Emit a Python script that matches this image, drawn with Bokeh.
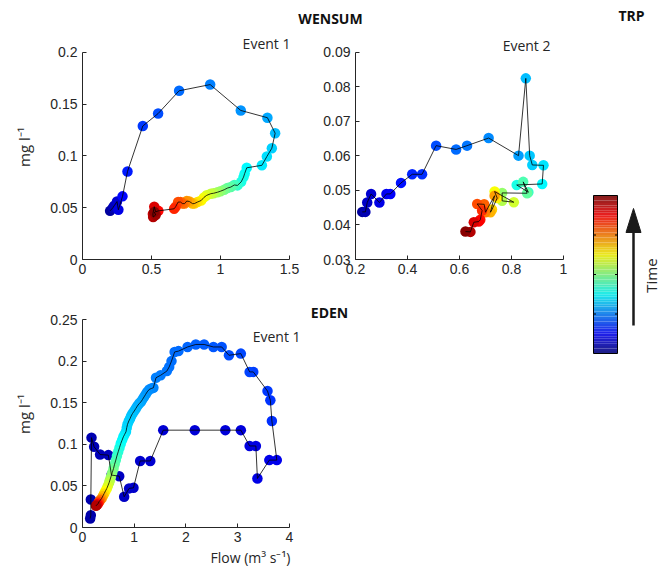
import math
from bokeh.plotting import figure
from bokeh.layouts import column, row
from bokeh.models import Range1d, FixedTicker, Label
from bokeh.embed import file_html
from bokeh.resources import INLINE
from bokeh.core.properties import value

# ---------------- data ----------------
# WENSUM, Event 1
wensum1_flow = [0.20, 0.22, 0.23, 0.25, 0.26, 0.29, 0.326, 0.437, 0.548, 0.70,
                0.925, 1.147, 1.34, 1.396, 1.372, 1.336, 1.30, 1.19, 1.175, 1.167,
                1.15, 1.123, 1.10, 1.075, 1.05, 1.027, 1.00, 0.978, 0.95, 0.93,
                0.90, 0.88, 0.86, 0.833, 0.81, 0.797, 0.775, 0.756, 0.74, 0.725,
                0.71, 0.693, 0.675, 0.664, 0.55, 0.53, 0.52, 0.51, 0.512, 0.53, 0.52]
wensum1_trp = [0.047, 0.050, 0.052, 0.056, 0.048, 0.061, 0.085, 0.129, 0.141, 0.163,
               0.169, 0.144, 0.137, 0.122, 0.1075, 0.0995, 0.091, 0.0886, 0.083, 0.0796,
               0.075, 0.0716, 0.072, 0.070, 0.069, 0.0674, 0.066, 0.065, 0.064, 0.0636,
               0.062, 0.060, 0.057, 0.0555, 0.054, 0.054, 0.056, 0.0565, 0.054, 0.054,
               0.0555, 0.0555, 0.051, 0.049, 0.047, 0.046, 0.051, 0.044, 0.041, 0.043, 0.046]
wensum1_time = [0.03, 0.05, 0.06, 0.08, 0.10, 0.13, 0.15, 0.18, 0.20, 0.23,
                0.25, 0.27, 0.29, 0.31, 0.33, 0.345, 0.355, 0.37, 0.38, 0.39,
                0.40, 0.42, 0.44, 0.46, 0.47, 0.49, 0.51, 0.53, 0.55, 0.57,
                0.59, 0.61, 0.63, 0.65, 0.67, 0.69, 0.71, 0.73, 0.75, 0.77,
                0.78, 0.80, 0.82, 0.84, 0.87, 0.89, 0.91, 0.93, 0.95, 0.97, 0.99]

# WENSUM, Event 2
wensum2_flow = [0.226, 0.238, 0.245, 0.26, 0.292, 0.319, 0.334, 0.375, 0.418, 0.456,
                0.51, 0.587, 0.629, 0.712, 0.827, 0.855, 0.87, 0.88, 0.923, 0.918,
                0.82, 0.865, 0.845, 0.86, 0.764, 0.764, 0.809, 0.735, 0.745, 0.725,
                0.719, 0.735, 0.70, 0.695, 0.668, 0.687, 0.68, 0.674, 0.655, 0.642, 0.623]
wensum2_trp = [0.0438, 0.0438, 0.0465, 0.049, 0.0465, 0.049, 0.049, 0.0522, 0.0547, 0.0547,
               0.063, 0.0619, 0.063, 0.0652, 0.0601, 0.0825, 0.0601, 0.0574, 0.0573, 0.0519,
               0.0516, 0.0495, 0.0525, 0.0492, 0.0493, 0.0470, 0.0466, 0.0497, 0.0478, 0.0445,
               0.0437, 0.0485, 0.0437, 0.0460, 0.0461, 0.0442, 0.0415, 0.0410, 0.0408, 0.0380, 0.0381]
wensum2_time = [0.03, 0.05, 0.07, 0.08, 0.10, 0.11, 0.12, 0.14, 0.16, 0.17,
                0.20, 0.23, 0.24, 0.26, 0.28, 0.31, 0.32, 0.33, 0.35, 0.37,
                0.40, 0.43, 0.45, 0.47, 0.52, 0.55, 0.58, 0.62, 0.64, 0.67,
                0.70, 0.72, 0.75, 0.78, 0.80, 0.83, 0.86, 0.88, 0.91, 0.95, 0.99]

# EDEN, Event 1 (early loop, right-hand rise and top arc, falling limb)
eden1_flow = [0.148, 0.161, 0.161, 0.174, 0.225, 0.34, 0.50, 0.56, 0.71, 0.805,
              0.90, 0.985, 1.114, 1.31, 1.56, 2.17, 2.76, 3.06, 3.23, 3.35,
              3.38, 3.61, 3.755,
              3.66, 3.63, 3.575, 3.30, 3.23, 3.06, 2.83, 2.69, 2.53, 2.35,
              2.19, 2.03,
              1.855, 1.78, 1.72, 1.675, 1.63, 1.51, 1.42, 1.37, 1.33, 1.29,
              1.25, 1.22, 1.19, 1.16, 1.13, 1.095, 1.06, 1.03, 1.0, 0.966,
              0.94, 0.92, 0.895, 0.87, 0.855, 0.84, 0.815, 0.79, 0.765, 0.74,
              0.715, 0.69, 0.665, 0.644, 0.62, 0.60, 0.575, 0.55, 0.53, 0.515,
              0.49, 0.47, 0.445, 0.42, 0.395, 0.37, 0.345, 0.32, 0.305, 0.29,
              0.275, 0.26]
eden1_trp = [0.0108, 0.0148, 0.0337, 0.108, 0.097, 0.0877, 0.087, 0.063, 0.0617, 0.0369,
             0.047, 0.0477, 0.080, 0.080, 0.117, 0.117, 0.117, 0.117, 0.098, 0.098,
             0.0589, 0.081, 0.081,
             0.128, 0.153, 0.164, 0.187, 0.187, 0.209, 0.207, 0.217, 0.217, 0.220,
             0.220, 0.217,
             0.212, 0.211, 0.200, 0.193, 0.188, 0.183, 0.180, 0.168, 0.167, 0.166,
             0.163, 0.160, 0.157, 0.154, 0.151, 0.149, 0.146, 0.143, 0.140, 0.137,
             0.134, 0.131, 0.128, 0.124, 0.120, 0.115, 0.112, 0.109, 0.105, 0.101,
             0.096, 0.091, 0.086, 0.081, 0.076, 0.071, 0.066, 0.061, 0.057, 0.054,
             0.050, 0.047, 0.044, 0.041, 0.038, 0.035, 0.033, 0.031, 0.029, 0.028,
             0.027, 0.026]
eden1_time = [0.040, 0.043, 0.046, 0.049, 0.052, 0.055, 0.058, 0.061, 0.064, 0.067,
              0.070, 0.073, 0.076, 0.079, 0.082, 0.085, 0.088, 0.091, 0.094, 0.097,
              0.100, 0.103, 0.106,
              0.17, 0.175, 0.18, 0.185, 0.19, 0.195, 0.20, 0.205, 0.21, 0.215,
              0.22, 0.225,
              0.230, 0.232, 0.234, 0.236, 0.240, 0.245, 0.250, 0.255, 0.258, 0.260,
              0.265, 0.270, 0.275, 0.280, 0.285, 0.290, 0.295, 0.300, 0.305, 0.310,
              0.315, 0.320, 0.325, 0.330, 0.335, 0.340, 0.350, 0.360, 0.370, 0.380,
              0.395, 0.410, 0.425, 0.440, 0.460, 0.480, 0.500, 0.520, 0.540, 0.560,
              0.580, 0.600, 0.625, 0.650, 0.685, 0.720, 0.760, 0.800, 0.840, 0.880,
              0.915, 0.950]

# axis ticks / labels
w1_xticks = [0, 0.5, 1, 1.5]
w1_xlabels = ["0", "0.5", "1", "1.5"]
w1_yticks = [0, 0.05, 0.1, 0.15, 0.2]
w1_ylabels = ["0", "0.05", "0.1", "0.15", "0.2"]
w2_xticks = [0.2, 0.4, 0.6, 0.8, 1]
w2_xlabels = ["0.2", "0.4", "0.6", "0.8", "1"]
w2_yticks = [0.03, 0.04, 0.05, 0.06, 0.07, 0.08, 0.09]
w2_ylabels = ["0.03", "0.04", "0.05", "0.06", "0.07", "0.08", "0.09"]
e1_xticks = [0, 1, 2, 3, 4]
e1_xlabels = ["0", "1", "2", "3", "4"]
e1_yticks = [0, 0.05, 0.1, 0.15, 0.2, 0.25]
e1_ylabels = ["0", "0.05", "0.1", "0.15", "0.2", "0.25"]

# ---------------- styling helpers ----------------
TICK_FONT = "Liberation Sans"
TEXT_FONT = "Open Sans"
AX_COL = "#262626"
YLABEL = "mg l\u207b\u00b9"


def jet(t):
    r = min(max(1.5 - abs(4 * t - 3), 0), 1)
    g = min(max(1.5 - abs(4 * t - 2), 0), 1)
    b = min(max(1.5 - abs(4 * t - 1), 0), 1)
    return r, g, b


def to_hex(rgb):
    return "#%02x%02x%02x" % tuple(int(round(c * 255)) for c in rgb)


def jet_hex(t):
    return to_hex(jet(t))


def muted_hex(t):
    r, g, b = jet(t)
    return to_hex((0.8 * r + 0.12, 0.8 * g + 0.12, 0.8 * b + 0.12))


def panel(width, height, bl, br, bt, bb, xr, yr, xb, yb, xt, xl, yt, yl, ylabel=None):
    p = figure(width=width, height=height, x_range=Range1d(*xr), y_range=Range1d(*yr),
               output_backend="svg", toolbar_location=None,
               min_border_left=bl, min_border_right=br, min_border_top=bt, min_border_bottom=bb)
    p.grid.visible = False
    p.outline_line_color = None
    p.background_fill_color = "white"
    p.border_fill_color = "white"
    for ax, ticks, labels, bounds in ((p.xaxis, xt, xl, xb), (p.yaxis, yt, yl, yb)):
        ax.bounds = bounds
        ax.ticker = FixedTicker(ticks=ticks)
        ax.major_label_overrides = {float(t): l for t, l in zip(ticks, labels)}
        ax.axis_line_color = AX_COL
        ax.axis_line_width = 1
        ax.major_tick_line_color = AX_COL
        ax.major_tick_in = 4
        ax.major_tick_out = 0
        ax.minor_tick_line_color = None
        ax.major_label_text_font = TICK_FONT
        ax.major_label_text_font_size = "14px"
        ax.major_label_text_color = AX_COL
    p.xaxis.major_label_standoff = 4
    p.yaxis.major_label_standoff = 5
    if ylabel:
        p.yaxis.axis_label = ylabel
        p.yaxis.axis_label_text_font = TEXT_FONT
        p.yaxis.axis_label_text_font_size = "15px"
        p.yaxis.axis_label_text_font_style = "normal"
        p.yaxis.axis_label_text_color = AX_COL
        p.yaxis.axis_label_standoff = 13
    return p


def draw_series(p, xs, ys, ts):
    cols = [jet_hex(t) for t in ts]
    p.scatter(xs, ys, size=10.5, fill_color=cols, line_color=None)
    p.line(xs, ys, line_color="black", line_width=0.8)


def add_text(p, x, y, text, align="center", size="14px", bold=False):
    p.add_layout(Label(x=x, y=y, text=text, text_align=align, text_baseline="middle",
                       text_font=TEXT_FONT, text_font_size=size,
                       text_font_style="bold" if bold else "normal",
                       text_color="#111111" if bold else AX_COL))


# ---------------- panels ----------------
# frames extend a little beyond the axes so that the in-panel captions fit
f1 = panel(308, 255, 82, 8, 4, 26, (0, 1.57971), (0, 0.217391), (0, 1.5), (0, 0.2),
           w1_xticks, w1_xlabels, w1_yticks, w1_ylabels, ylabel=YLABEL)
draw_series(f1, wensum1_flow, wensum1_trp, wensum1_time)
add_text(f1, 1.507, 0.2087, "Event 1", align="right")

f2 = panel(272, 255, 47, 17, 4, 26, (0.2, 1.0), (0.03, 0.095217), (0.2, 1.0), (0.03, 0.09),
           w2_xticks, w2_xlabels, w2_yticks, w2_ylabels)
draw_series(f2, wensum2_flow, wensum2_trp, wensum2_time)
add_text(f2, 0.95, 0.092, "Event 2", align="right")

f3 = panel(580, 263, 82, 200, 15, 21, (0, 5.7585), (0, 0.27284), (0, 4), (0, 0.25),
           e1_xticks, e1_xlabels, e1_yticks, e1_ylabels, ylabel=YLABEL)
draw_series(f3, eden1_flow, eden1_trp, eden1_time)
add_text(f3, 4.213, 0.2296, "Event 1", align="right")
add_text(f3, 4.773, 0.2584, "EDEN", bold=True)


def blank(width, height):
    p = figure(width=width, height=height, x_range=Range1d(0, width), y_range=Range1d(0, height),
               output_backend="svg", toolbar_location=None, min_border=0,
               x_axis_location=None, y_axis_location=None)
    p.grid.visible = False
    p.outline_line_color = None
    return p


# ---------------- header ----------------
fh = blank(659, 30)
fh.text(x=[330], y=[12.5], text=["WENSUM"], text_font=value(TEXT_FONT), text_font_size="14px",
        text_font_style="bold", text_align="center", text_baseline="middle", text_color="#111111")
fh.text(x=[631], y=[15], text=["TRP"], text_font=value(TEXT_FONT), text_font_size="14px",
        text_font_style="bold", text_align="center", text_baseline="middle", text_color="#111111")

# ---------------- footer (x-axis title) ----------------
ff = blank(580, 35)
ff.text(x=[327], y=[26], text=["Flow (m\u00b3 s\u207b\u00b9)"], text_font=value(TEXT_FONT),
        text_font_size="14px", text_align="center", text_baseline="middle", text_color=AX_COL)

# ---------------- colour bar (time legend) ----------------
fc = blank(79, 553)
bar_l, bar_r, bar_b, bar_t = 13, 37, 230, 388
levels = [i / 64 for i in range(64)]
step = (bar_t - bar_b) / 64
fc.quad(left=bar_l, right=bar_r,
        bottom=[bar_b + step * i for i in range(64)],
        top=[bar_b + step * (i + 1) for i in range(64)],
        fill_color=[muted_hex(t + 0.5 / 64) for t in levels], line_color=None)
fc.quad(left=[bar_l], right=[bar_r], bottom=[bar_b], top=[bar_t],
        fill_color=None, line_color="black", line_width=1)
tick_fracs = [0.25, 0.5, 0.75]
ty = [bar_b + (bar_t - bar_b) * f for f in tick_fracs]
fc.segment(x0=[bar_l] * 3, y0=ty, x1=[bar_l + 2.5] * 3, y1=ty, line_color="black", line_width=1)
fc.segment(x0=[bar_r] * 3, y0=ty, x1=[bar_r - 2.5] * 3, y1=ty, line_color="black", line_width=1)
fc.segment(x0=[53], y0=[258], x1=[53], y1=[352], line_color="#1a1a1a", line_width=2.5)
fc.patch(x=[45.5, 60.5, 53], y=[351, 351, 375], fill_color="#1a1a1a", line_color="#1a1a1a")
fc.text(x=[70], y=[308], text=["Time"], angle=math.pi / 2, text_font=value(TEXT_FONT),
        text_font_size="15px", text_align="center", text_baseline="middle", text_color=AX_COL)

layout = column(fh, row(column(row(f1, f2), f3, ff), fc))

open("out.html", "w").write(file_html(layout, INLINE))
